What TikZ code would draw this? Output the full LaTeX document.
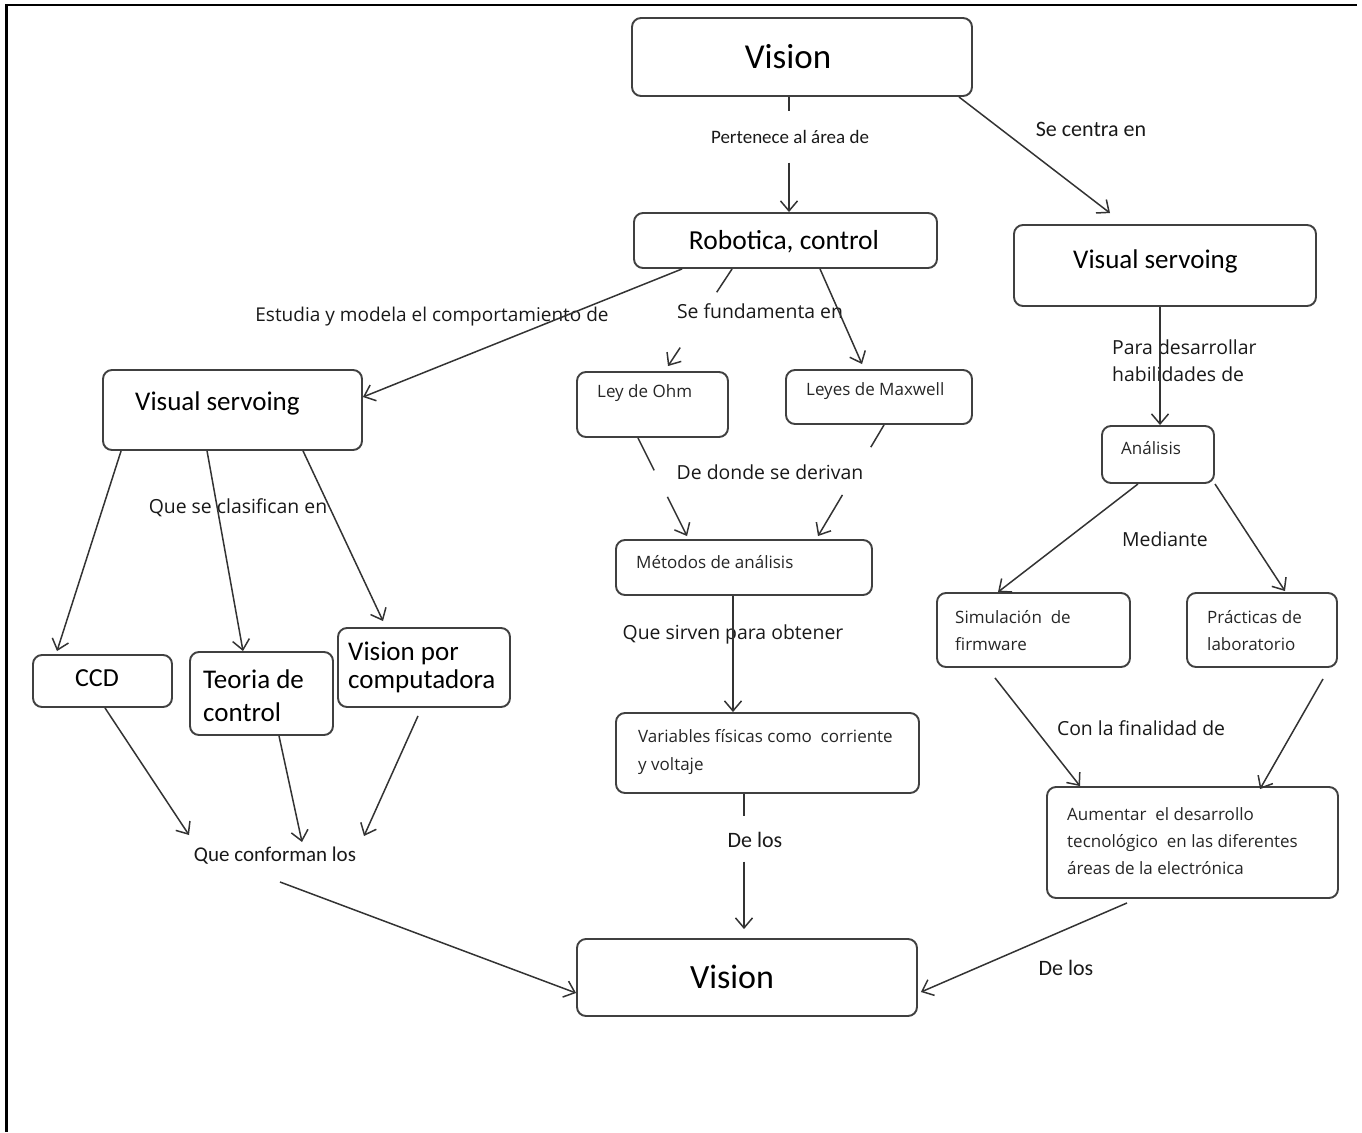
\documentclass[tikz,border=0pt]{standalone}
\usepackage{fontspec}
\setmainfont{Carlito}
\newfontfamily\osans{Open Sans}
\usetikzlibrary{arrows.meta,calc}
\begin{document}
\begin{tikzpicture}[x=1pt,y=-1pt,
  box/.style={draw=black!75, line width=1.9pt, rounded corners=9pt, inner sep=0pt},
  ln/.style={line width=1.5pt, draw=black!80},
  arr/.style={ln, -{Straight Barb[length=10pt,width=17pt,line width=1.5pt]}},
  big/.style={font=\fontsize{35}{40}\selectfont, inner sep=0pt},
  mid/.style={font=\fontsize{27}{33}\selectfont, inner sep=0pt, align=left},
  sm/.style={font=\osans\fontsize{17}{27}\selectfont, inner sep=0pt, align=left, text=black!85},
  lab/.style={font=\osans\fontsize{19.4}{27}\selectfont, inner sep=0pt, align=left, text=black!90},
  lbc/.style={font=\fontsize{21}{26}\selectfont, inner sep=0pt, text=black!90},
]
\useasboundingbox (0,0) rectangle (1362,1132);
% frame
\draw[line width=1.5pt] (5,5) -- (1357,5);
\draw[line width=3pt] (6,5) -- (6,1132);

% boxes
\node[box, minimum width=340pt, minimum height=78pt] (v1) at (802,57) {};
\node[box, minimum width=303pt, minimum height=55pt] (rob) at (785.5,240.5) {};
\node[box, minimum width=302pt, minimum height=81pt] (vsR) at (1165,265.5) {};
\node[box, minimum width=259pt, minimum height=80pt] (vsL) at (232.5,410) {};
\node[box, minimum width=151pt, minimum height=65pt] (ohm) at (652.5,404.5) {};
\node[box, minimum width=186pt, minimum height=54pt] (max) at (879,397) {};
\node[box, minimum width=256pt, minimum height=55pt] (met) at (744,567.5) {};
\node[box, minimum width=303pt, minimum height=80pt] (var) at (767.5,753) {};
\node[box, minimum width=139pt, minimum height=52pt] (ccd) at (102.5,681) {};
\node[box, minimum width=143pt, minimum height=83pt] (teo) at (261.5,693.5) {};
\node[box, minimum width=172pt, minimum height=79pt] (vpc) at (424,667.5) {};
\node[box, minimum width=112pt, minimum height=57pt] (ana) at (1158,454.5) {};
\node[box, minimum width=193pt, minimum height=74pt] (sim) at (1033.5,630) {};
\node[box, minimum width=150pt, minimum height=74pt] (pra) at (1262,630) {};
\node[box, minimum width=291pt, minimum height=111pt] (aum) at (1192.5,842.5) {};
\node[box, minimum width=340pt, minimum height=77pt] (v2) at (747,977.5) {};

% box texts
\node[big] (tv1) at (788,57) {Vision};
\node[mid, font=\fontsize{27.5}{33}\selectfont] (trob) at (784,242) {Robotica, control};
\node[mid, anchor=west] (tvsR) at (1073,261) {Visual servoing};
\node[mid, anchor=west] (tvsL) at (135,403) {Visual servoing};
\node[sm, anchor=west] (tohm) at (597,393) {Ley de Ohm};
\node[sm, anchor=west] (tmax) at (806,391) {Leyes de Maxwell};
\node[sm, anchor=west] (tmet) at (636,562) {Métodos de análisis};
\node[sm, anchor=north west, font=\osans\fontsize{17}{28}\selectfont] (tvar) at (638,729) {Variables físicas como\ \ corriente\\y voltaje};
\node[mid, font=\fontsize{26}{30}\selectfont] (tccd) at (97,678) {CCD};
\node[mid, anchor=north west] (tteo) at (203,670) {Teoria de\\control};
\node[mid, anchor=north west, font=\fontsize{27}{28}\selectfont] (tvpc) at (348,642) {Vision por\\computadora};
\node[sm, anchor=west] (tana) at (1121,448) {Análisis};
\node[sm, anchor=north west] (tsim) at (955,610) {Simulación\ \ de\\firmware};
\node[sm, anchor=north west] (tpra) at (1207,610) {Prácticas de\\laboratorio};
\node[sm, anchor=north west] (taum) at (1067,807) {Aumentar\ \ el desarrollo\\tecnológico\ \ en las diferentes\\áreas de la electrónica};
\node[big, font=\fontsize{34}{40}\selectfont] (tv2) at (732,977) {Vision};

% free labels
\node[lbc, font=\fontsize{19}{24}\selectfont] (l1) at (790,137) {Pertenece al área de};
\node[lbc, font=\fontsize{22}{26}\selectfont] (l2) at (1091,129) {Se centra en};
\node[lab, font=\osans\fontsize{19}{24}\selectfont] (l3) at (432,317) {Estudia y modela el comportamiento de};
\node[lab] (l4) at (760,311) {Se fundamenta en};
\node[lab] (l5) at (770,472) {De donde se derivan};
\node[lab] (l6) at (238,508) {Que se clasifican en};
\node[lab] (l7) at (733,634) {Que sirven para obtener};
\node[lab, anchor=north west] (l8) at (1112,340) {Para desarrollar\\habilidades de};
\node[lab] (l9) at (1165,539) {Mediante};
\node[lab] (l10) at (1141,728) {Con la finalidad de};
\node[lbc] (qc) at (275,856) {Que conforman los};
\node[lbc, font=\fontsize{22}{26}\selectfont] (l12) at (755,840) {De los};
\node[lbc, font=\fontsize{22}{26}\selectfont] (l13) at (1066,968) {De los};

% broken connectors
\coordinate (a1) at ([xshift=-13pt]v1.south);
\coordinate (b1) at ([xshift=3.5pt]rob.north);
\draw[ln] (a1) -- ($(a1)!0.12!(b1)$);
\draw[arr] ($(a1)!0.57!(b1)$) -- (b1);

\coordinate (a2) at ([xshift=99pt]rob.south west);
\coordinate (b2) at ([xshift=15.5pt,yshift=5pt]ohm.north);
\draw[ln] (a2) -- ($(a2)!0.24!(b2)$);
\draw[arr] ($(a2)!0.81!(b2)$) -- (b2);

\coordinate (a3) at ([xshift=-14.5pt]ohm.south);
\coordinate (b3) at ([xshift=-57pt,yshift=3pt]met.north);
\draw[ln] (a3) -- ($(a3)!0.33!(b3)$);
\draw[arr] ($(a3)!0.6!(b3)$) -- (b3);

\coordinate (a4) at ([xshift=5pt]max.south);
\coordinate (b4) at ([xshift=74pt,yshift=3pt]met.north);
\draw[ln] (a4) -- ($(a4)!0.2!(b4)$);
\draw[arr] ($(a4)!0.63!(b4)$) -- (b4);

\coordinate (a5) at ([xshift=-23.5pt]var.south);
\coordinate (b5) at ([xshift=-3pt,yshift=9pt]v2.north);
\draw[ln] (a5) -- ($(a5)!0.16!(b5)$);
\draw[arr] ($(a5)!0.5!(b5)$) -- (b5);

% continuous connectors
\draw[arr] ([xshift=-14pt]v1.south east) -- ([xshift=-55pt,yshift=11pt]vsR.north);
\draw[arr] ([xshift=49pt]rob.south west) -- ([yshift=13pt]vsL.east);
\draw[arr] ([xshift=34.5pt]rob.south) -- ([xshift=-17pt,yshift=5pt]max.north);
\draw[arr] ([xshift=-11pt]met.south) -- ([xshift=-34.5pt]var.north);
\draw[arr] ([xshift=19pt]vsL.south west) -- ([xshift=-45.5pt,yshift=3pt]ccd.north);
\draw[arr] ([xshift=105pt]vsL.south west) -- ([xshift=-18.5pt]teo.north);
\draw[arr] ([xshift=201pt]vsL.south west) -- ([xshift=-41pt,yshift=6pt]vpc.north);
\draw[arr] ([xshift=2.5pt]ccd.south) -- ([xshift=-86pt,yshift=21pt]qc.center);
\draw[arr] ([xshift=17.5pt]teo.south) -- ([xshift=27pt,yshift=14pt]qc.center);
\draw[arr] ([xshift=-6pt,yshift=-8pt]vpc.south) -- ([xshift=89pt,yshift=20pt]qc.center);
\draw[arr] ([xshift=5pt,yshift=-26pt]qc.center) -- ([yshift=-15.5pt]v2.west);
\draw[arr] ([xshift=-5pt]vsR.south) -- ([xshift=2pt]ana.north);
\draw[arr] ([xshift=-20pt]ana.south) -- ([xshift=-35.5pt]sim.north);
\draw[arr] (ana.south east) -- ([xshift=23pt,yshift=1pt]pra.north);
\draw[arr] ([xshift=-38.5pt,yshift=-10pt]sim.south) -- ([xshift=-112.5pt]aum.north);
\draw[arr] ([xshift=61pt,yshift=-11pt]pra.south) -- ([xshift=67.5pt,yshift=-3pt]aum.north);
\draw[arr] ([xshift=-65.5pt,yshift=-4pt]aum.south) -- ([xshift=3pt,yshift=-14.5pt]v2.east);
\end{tikzpicture}
\end{document}
